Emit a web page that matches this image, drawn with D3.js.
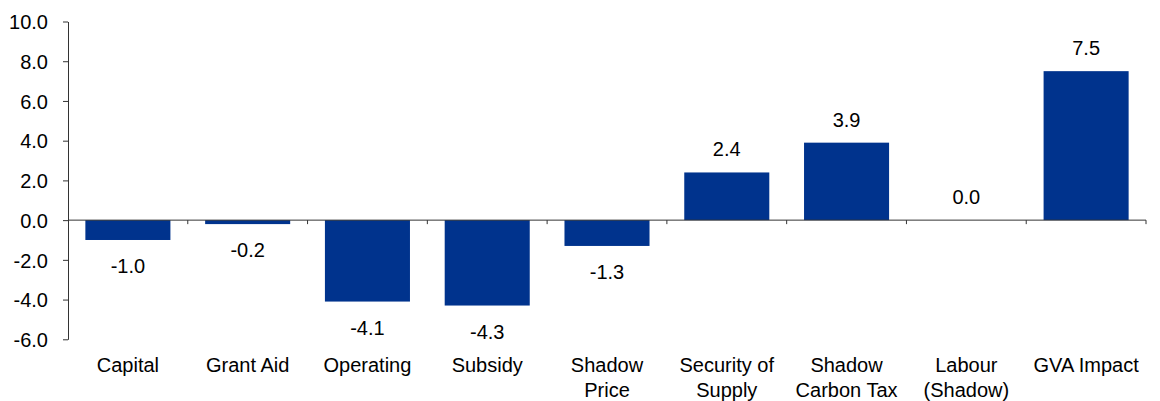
<!DOCTYPE html>
<html>
<head>
<meta charset="utf-8">
<script src="https://cdn.jsdelivr.net/npm/d3@7"></script>
<style>
  html, body { margin: 0; padding: 0; background: #fff; }
  svg text { font-family: Arial, "Liberation Sans", sans-serif; fill: #000; }
</style>
</head>
<body>
<svg id="chart" width="1160" height="401"></svg>
<script>
// Net benefit components (value per category)
const categories = [
  ["Capital"], ["Grant Aid"], ["Operating"], ["Subsidy"],
  ["Shadow", "Price"], ["Security of", "Supply"], ["Shadow", "Carbon Tax"],
  ["Labour", "(Shadow)"], ["GVA Impact"]
];
const values = [-1.0, -0.2, -4.1, -4.3, -1.3, 2.4, 3.9, 0.0, 7.5];
const yTicks = [-6, -4, -2, 0, 2, 4, 6, 8, 10];

const svg = d3.select("#chart");
const plotLeft = 68, plotRight = 1146, plotTop = 21.5, plotBottom = 339.3;
const fontSize = 20;

// one decimal, plain hyphen for negatives
const fmt = d => d3.format(".1f")(d).replace("\u2212", "-");

const x = d3.scaleBand()
  .domain(d3.range(categories.length))
  .range([plotLeft, plotRight])
  .paddingInner(0.29)
  .paddingOuter(0.145);

const y = d3.scaleLinear().domain([-6, 10]).range([plotBottom, plotTop]);

// Y axis
const yAxis = d3.axisLeft(y)
  .tickValues(yTicks)
  .tickFormat(fmt)
  .tickSize(5)
  .tickSizeOuter(0)
  .tickPadding(15);

const gy = svg.append("g").attr("transform", `translate(${plotLeft},0)`).call(yAxis);
gy.attr("font-size", null).attr("font-family", null);
gy.select(".domain").attr("stroke", "#333");
gy.selectAll(".tick line").attr("stroke", "#333");
gy.selectAll(".tick text")
  .attr("font-size", fontSize)
  .attr("dy", "0.36em")
  .attr("fill", "#000");

// Bars
const color = "#00338D";
svg.append("g").selectAll("rect")
  .data(values)
  .join("rect")
  .attr("x", (d, i) => x(i))
  .attr("width", x.bandwidth())
  .attr("y", d => y(Math.max(0, d)))
  .attr("height", d => Math.abs(y(d) - y(0)))
  .attr("fill", color);

// Category axis along zero line, with ticks between categories
const step = x.step();
const boundaries = d3.range(categories.length + 1).map(i => plotLeft + i * step);
const gx = svg.append("g");
gx.append("line")
  .attr("x1", plotLeft).attr("x2", plotRight)
  .attr("y1", y(0)).attr("y2", y(0))
  .attr("stroke", "#333");
gx.selectAll("line.tick")
  .data(boundaries.slice(1))
  .join("line")
  .attr("class", "tick")
  .attr("x1", d => d).attr("x2", d => d)
  .attr("y1", y(0)).attr("y2", y(0) + 4)
  .attr("stroke", "#333");

// Category labels
const catG = svg.append("g");
categories.forEach((lines, i) => {
  const cx = x(i) + x.bandwidth() / 2;
  const t = catG.append("text")
    .attr("x", cx)
    .attr("y", 372)
    .attr("text-anchor", "middle")
    .attr("font-size", fontSize);
  lines.forEach((ln, j) => {
    t.append("tspan")
      .attr("x", cx)
      .attr("dy", j === 0 ? 0 : 25)
      .text(ln);
  });
});

// Value labels
svg.append("g").selectAll("text")
  .data(values)
  .join("text")
  .attr("x", (d, i) => x(i) + x.bandwidth() / 2)
  .attr("y", d => d >= 0 ? y(d) - 16 : y(d) + 33)
  .attr("text-anchor", "middle")
  .attr("font-size", fontSize)
  .text(fmt);
</script>
</body>
</html>
